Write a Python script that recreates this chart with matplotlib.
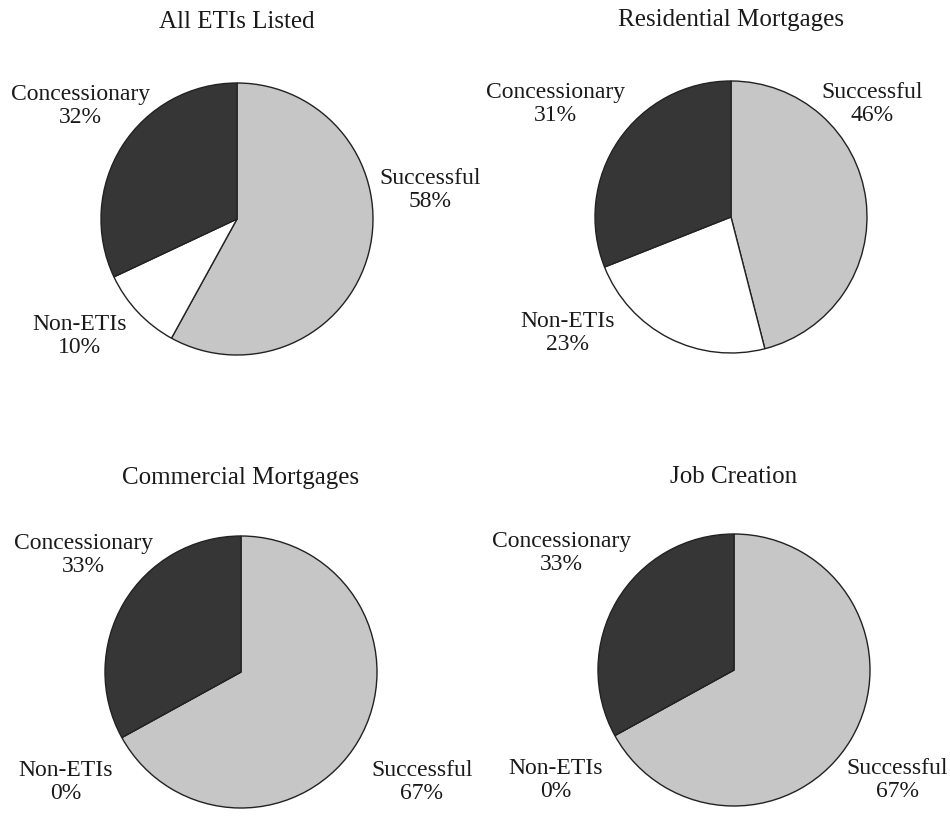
import matplotlib
matplotlib.use("Agg")
import matplotlib.pyplot as plt

# Data
titles = ["All ETIs Listed", "Residential Mortgages", "Commercial Mortgages", "Job Creation"]
categories = ["Successful", "Non-ETIs", "Concessionary"]
successful = [58, 46, 67, 67]
non_etis = [10, 23, 0, 0]
concessionary = [32, 31, 33, 33]

colors = ["#c6c6c6", "#ffffff", "#363636"]

plt.rcParams["font.family"] = ["Liberation Serif", "DejaVu Serif"]

W, H = 950, 817
fig = plt.figure(figsize=(W / 100, H / 100), dpi=100)

# layout: pie centre (px), radius (px), title y (px), label offsets in radius units
centres = [(237, 219), (731, 217), (241, 672), (734, 670)]
radius_px = 136
title_y = [22, 20, 478, 477]
label_pos = [
    {"Successful": (1.42, 0.21), "Non-ETIs": (-1.16, -0.86), "Concessionary": (-1.15, 0.83)},
    {"Successful": (1.04, 0.83), "Non-ETIs": (-1.20, -0.85), "Concessionary": (-1.29, 0.83)},
    {"Successful": (1.33, -0.81), "Non-ETIs": (-1.29, -0.81), "Concessionary": (-1.16, 0.86)},
    {"Successful": (1.20, -0.81), "Non-ETIs": (-1.31, -0.81), "Concessionary": (-1.27, 0.86)},
]

for i, title in enumerate(titles):
    cx, cy = centres[i]
    r = radius_px
    ax = fig.add_axes([(cx - r) / W, 1 - (cy + r) / H, 2 * r / W, 2 * r / H])
    values = [successful[i], non_etis[i], concessionary[i]]
    ax.pie(values, colors=colors, startangle=90, counterclock=False, radius=1,
           wedgeprops={"edgecolor": "#222222", "linewidth": 1.0})
    ax.set_xlim(-1, 1)
    ax.set_ylim(-1, 1)
    ax.axis("off")
    for cat, val in zip(categories, values):
        x, y = label_pos[i][cat]
        ax.text(x, y, f"{cat}\n{val}%", ha="center", va="center", fontsize=17,
                linespacing=1.12, color="#1a1a1a", clip_on=False)
    fig.text(cx / W, 1 - title_y[i] / H, title, ha="center", va="center",
             fontsize=18, color="#1a1a1a")

fig.savefig("out.png", dpi=100)
